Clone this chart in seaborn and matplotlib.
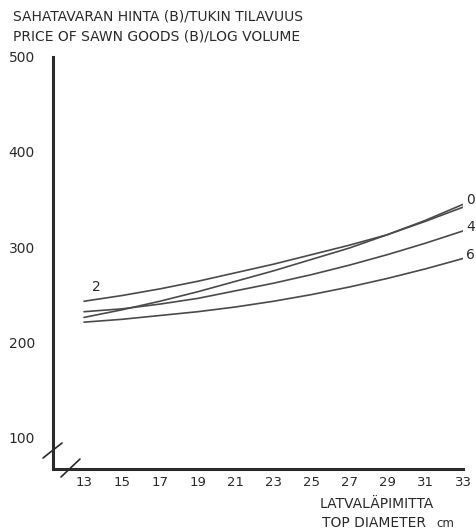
import numpy as np
import pandas as pd
import matplotlib
matplotlib.use("Agg")
import matplotlib.pyplot as plt
import seaborn as sns

# Top diameter classes (cm)
diameters = [13, 15, 17, 19, 21, 23, 25, 27, 29, 31, 33]

# Price of sawn goods (B) per log volume, one curve per class
price_0 = [226, 234, 243, 253, 264, 275, 287, 299, 313, 328, 345]
price_2 = [243, 249, 256, 264, 273, 282, 292, 302, 313, 327, 342]
price_4 = [232, 235, 240, 246, 254, 262, 271, 281, 292, 304, 317]
price_6 = [221, 224, 228, 232, 237, 243, 250, 258, 267, 277, 288]

curve_names = ["0", "2", "4", "6"]
y_ticks = [100, 200, 300, 400, 500]
x_ticks = diameters

df = pd.DataFrame({
    "diameter": diameters * 4,
    "price": price_0 + price_2 + price_4 + price_6,
    "curve": sum([[n] * len(diameters) for n in curve_names], []),
})

sns.set_style("white")
plt.rcParams["font.family"] = ["DejaVu Sans"]

fig = plt.figure(figsize=(4.77, 5.32), dpi=100)
ax = fig.add_axes([0.111, 0.118, 0.860, 0.775])

ink = "#2a2a2a"
sns.lineplot(data=df, x="diameter", y="price", hue="curve",
             palette={n: "#4a4a4a" for n in curve_names},
             linewidth=1.2, legend=False, ax=ax)

ax.set_xlim(11.36, 33)
ax.set_ylim(66.3, 500)
ax.set_xticks(x_ticks)
ax.set_xticklabels([str(v) for v in x_ticks])
ax.set_yticks(y_ticks)
ax.set_yticks([150, 250, 350, 450], minor=True)
ax.set_xlabel("")
ax.set_ylabel("")

for side in ("top", "right"):
    ax.spines[side].set_visible(False)
for side in ("left", "bottom"):
    ax.spines[side].set_linewidth(2.2)
    ax.spines[side].set_color(ink)

ax.tick_params(axis="y", which="major", direction="out", length=3, width=1.2,
               color=ink, labelsize=10, labelcolor=ink, pad=10)
ax.tick_params(axis="y", which="minor", direction="out", length=2, width=1.0,
               color=ink)
ax.tick_params(axis="x", which="major", direction="in", length=3, width=1.2,
               color=ink, labelsize=9.5, labelcolor=ink, pad=5)

# Curve labels
ax.text(13.4, 258, "2", fontsize=10, color=ink, ha="left", va="center")
for name, vals in zip(["0", "4", "6"], [price_0, price_4, price_6]):
    ax.text(33.15, vals[-1] + 4, name, fontsize=10, color=ink,
            ha="left", va="center", clip_on=False)

# Axis break marks
fig.add_artist(plt.Line2D([43 / 477, 62 / 477], [1 - 458 / 532, 1 - 443 / 532],
                          color=ink, linewidth=1.2))
fig.add_artist(plt.Line2D([61 / 477, 80 / 477], [1 - 477 / 532, 1 - 459 / 532],
                          color=ink, linewidth=1.2))

# Titles
fig.text(13 / 477, 1 - 16 / 532, "SAHATAVARAN HINTA (B)/TUKIN TILAVUUS",
         fontsize=10, color=ink, ha="left", va="center")
fig.text(13 / 477, 1 - 37 / 532, "PRICE OF SAWN GOODS (B)/LOG VOLUME",
         fontsize=10, color=ink, ha="left", va="center")
fig.text(320 / 477, 1 - 504 / 532, "LATVALÄPIMITTA",
         fontsize=10, color=ink, ha="left", va="center")
fig.text(322 / 477, 1 - 527 / 532, "TOP DIAMETER",
         fontsize=10, color=ink, ha="left", va="baseline")
fig.text(436 / 477, 1 - 527 / 532, "cm",
         fontsize=8.5, color=ink, ha="left", va="baseline")

fig.savefig("out.png", dpi=100)
